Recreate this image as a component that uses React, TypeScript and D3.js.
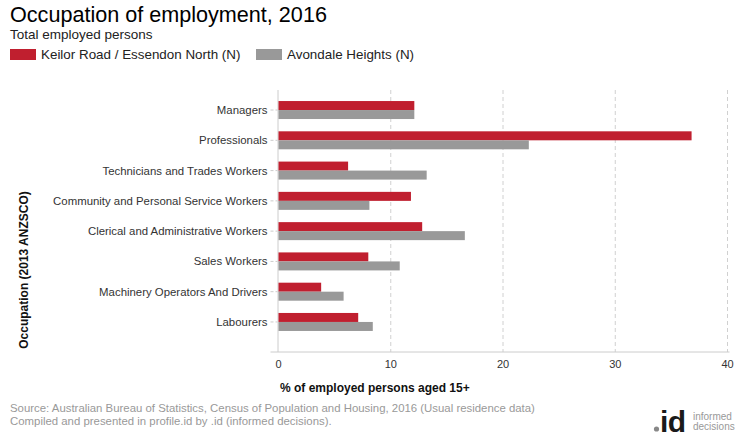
import React from "react";
import * as d3 from "d3";

const categories = [
  "Managers",
  "Professionals",
  "Technicians and Trades Workers",
  "Community and Personal Service Workers",
  "Clerical and Administrative Workers",
  "Sales Workers",
  "Machinery Operators And Drivers",
  "Labourers",
];
const keilorValues = [12.1, 36.8, 6.2, 11.8, 12.8, 8.0, 3.8, 7.1];
const avondaleValues = [12.1, 22.3, 13.2, 8.1, 16.6, 10.8, 5.8, 8.4];
const seriesNames = ["Keilor Road / Essendon North (N)", "Avondale Heights (N)"];
const seriesColors = ["#C01F2F", "#999999"];
const xTicks = [0, 10, 20, 30, 40];

const FONT = "Arial, 'Liberation Sans', sans-serif";

export default function App() {
  const left = 278.5;
  const right = 727.5;
  const top = 94.9;
  const bandBottom = 337.1;
  const bottom = 352;
  const x = d3.scaleLinear().domain([0, 40]).range([left, right]);
  const y = d3.scaleBand<string>().domain(categories).range([top, bandBottom]);
  const barH = 9;
  const series = [keilorValues, avondaleValues];

  return (
    <svg
      width={740}
      height={440}
      style={{ position: "absolute", left: 0, top: 0, fontFamily: FONT }}
    >
      <rect width={740} height={440} fill="#fff" />
      <text x={10} y={22} fontSize={21.6} fill="#000">
        Occupation of employment, 2016
      </text>
      <text x={10} y={39} fontSize={13.5} fill="#222">
        Total employed persons
      </text>
      {seriesNames.map((n, i) => {
        const lx = i === 0 ? 10 : 256;
        return (
          <g key={n}>
            <rect x={lx} y={49} width={26} height={11} fill={seriesColors[i]} />
            <text x={lx + 31} y={59} fontSize={13.4} fill="#222">
              {n}
            </text>
          </g>
        );
      })}

      {/* gridlines */}
      {xTicks.slice(1).map((t) => (
        <line
          key={t}
          x1={x(t)}
          x2={x(t)}
          y1={90}
          y2={bottom}
          stroke="#d0d0d0"
          strokeDasharray="4,3"
        />
      ))}
      {/* left axis */}
      <line x1={left - 0.5} x2={left - 0.5} y1={90} y2={bottom} stroke="#ccc" />
      {/* bottom axis */}
      <line x1={left - 8} x2={right + 2} y1={bottom} y2={bottom} stroke="#ccc" />
      {categories.map((c) => {
        const cy = (y(c) as number) + y.bandwidth() / 2;
        return (
          <g key={c}>
            <line
              x1={left - 8}
              x2={left - 1}
              y1={cy}
              y2={cy}
              stroke="#ccc"
              strokeDasharray="3,2"
            />
            <text
              x={267.5}
              y={cy + 4}
              fontSize={11.4}
              textAnchor="end"
              fill="#333"
            >
              {c}
            </text>
          </g>
        );
      })}
      {series.map((vals, si) =>
        vals.map((v, i) => {
          const cy = (y(categories[i]) as number) + y.bandwidth() / 2;
          return (
            <rect
              key={si + "-" + i}
              x={x(0)}
              y={cy - barH + si * barH}
              width={x(v) - x(0)}
              height={barH}
              fill={seriesColors[si]}
            />
          );
        })
      )}
      {xTicks.map((t) => (
        <text
          key={t}
          x={x(t)}
          y={368}
          fontSize={11}
          textAnchor="middle"
          fill="#333"
        >
          {t}
        </text>
      ))}
      <text x={280} y={392} fontSize={12} fontWeight="bold" fill="#111">
        % of employed persons aged 15+
      </text>
      <text
        transform="translate(28,270) rotate(-90)"
        fontSize={12}
        fontWeight="bold"
        textAnchor="middle"
        fill="#111"
      >
        Occupation (2013 ANZSCO)
      </text>

      <text x={10} y={412} fontSize={11.4} fill="#999">
        Source: Australian Bureau of Statistics, Census of Population and Housing, 2016 (Usual residence data)
      </text>
      <text x={10} y={425} fontSize={11.4} fill="#999">
        Compiled and presented in profile.id by .id (informed decisions).
      </text>

      {/* logo */}
      <circle cx={656.5} cy={429} r={2.6} fill="#888" />
      <text x={660} y={432} fontSize={30} fontWeight="bold" fill="#1a1a1a" letterSpacing={-0.5}>
        id
      </text>
      <text x={693} y={420} fontSize={10} fill="#999">
        informed
      </text>
      <text x={693} y={430} fontSize={10} fill="#999">
        decisions
      </text>
    </svg>
  );
}
